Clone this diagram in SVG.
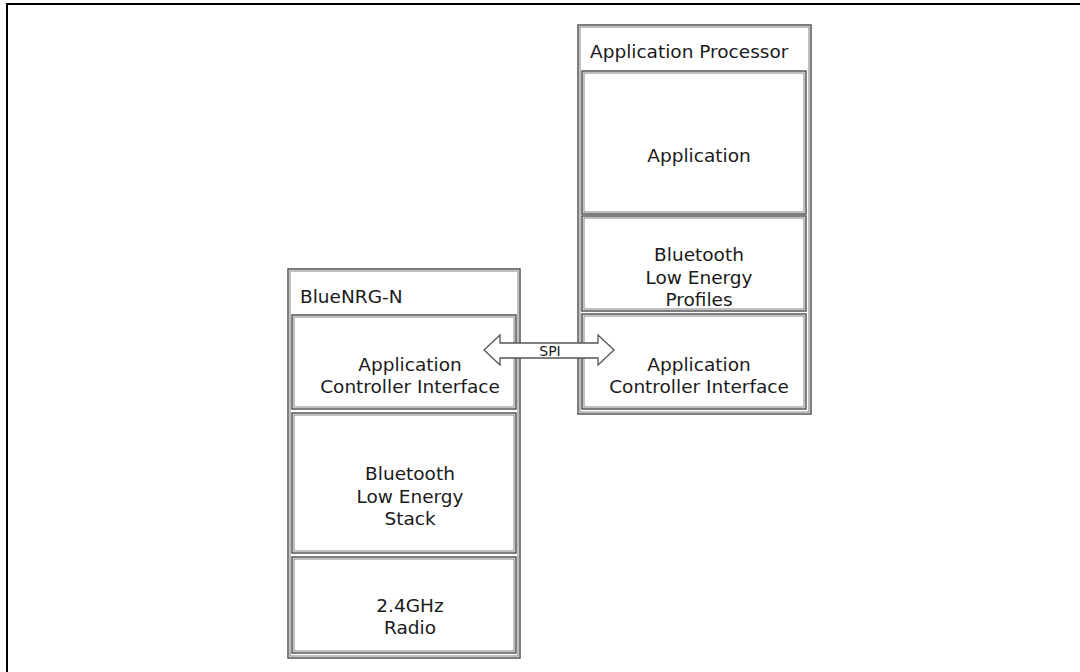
<svg xmlns="http://www.w3.org/2000/svg" width="1080" height="672" viewBox="0 0 1080 672">
<defs>
<style>
.box{fill:none;stroke:#3a3a3a;stroke-width:1.3}
.inn{fill:none;stroke:#808080;stroke-width:1}
.t{font-family:"DejaVu Sans",Verdana,sans-serif;font-size:18.5px;fill:#1a1a1a;text-anchor:middle}
.tl{font-family:"DejaVu Sans",Verdana,sans-serif;font-size:18.5px;fill:#1a1a1a}
</style>
</defs>
<rect width="1080" height="672" fill="#fff"/>
<path d="M7,672 V4 H1080" fill="none" stroke="#000" stroke-width="2"/>
<g id="bluenrg">
<rect class="box" x="288" y="269" width="232" height="389"/>
<rect class="inn" x="290" y="271" width="228" height="385"/>
<text class="tl" x="300" y="303">BlueNRG-N</text>
</g>
<g id="aci-left">
<rect class="box" x="292" y="315" width="224" height="94"/>
<rect class="inn" x="294" y="317" width="220" height="90"/>
<text class="t" x="410" y="371">Application</text>
<text class="t" x="410" y="393">Controller Interface</text>
</g>
<g id="stack">
<rect class="box" x="292" y="413" width="224" height="140"/>
<rect class="inn" x="294" y="415" width="220" height="136"/>
<text class="t" x="410" y="480">Bluetooth</text>
<text class="t" x="410" y="503">Low Energy</text>
<text class="t" x="410" y="525">Stack</text>
</g>
<g id="radio">
<rect class="box" x="292" y="557" width="224" height="96"/>
<rect class="inn" x="294" y="559" width="220" height="92"/>
<text class="t" x="410" y="612">2.4GHz</text>
<text class="t" x="410" y="634">Radio</text>
</g>
<g id="appproc">
<rect class="box" x="578" y="25" width="233" height="389"/>
<rect class="inn" x="580" y="27" width="229" height="385"/>
<text class="tl" x="590" y="58">Application Processor</text>
</g>
<g id="application">
<rect class="box" x="582" y="71" width="224" height="143"/>
<rect class="inn" x="584" y="73" width="220" height="139"/>
<text class="t" x="699" y="162">Application</text>
</g>
<g id="profiles">
<rect class="box" x="582" y="216" width="224" height="95"/>
<rect class="inn" x="584" y="218" width="220" height="91"/>
<text class="t" x="699" y="261">Bluetooth</text>
<text class="t" x="699" y="284">Low Energy</text>
<text class="t" x="699" y="306">Profiles</text>
</g>
<g id="aci-right">
<rect class="box" x="582" y="314" width="224" height="95"/>
<rect class="inn" x="584" y="316" width="220" height="91"/>
<text class="t" x="699" y="371">Application</text>
<text class="t" x="699" y="393">Controller Interface</text>
</g>
<g id="connectors">
<path d="M484,350 L500,335 L500,343 L598,343 L598,335 L614,350 L598,365 L598,358 L500,358 L500,365 Z" fill="#fff" stroke="#555" stroke-width="1.3" stroke-linejoin="miter"/>
<text x="550" y="356" font-family="DejaVu Sans,Verdana,sans-serif" font-size="14" fill="#1a1a1a" text-anchor="middle">SPI</text>
</g>
</svg>
